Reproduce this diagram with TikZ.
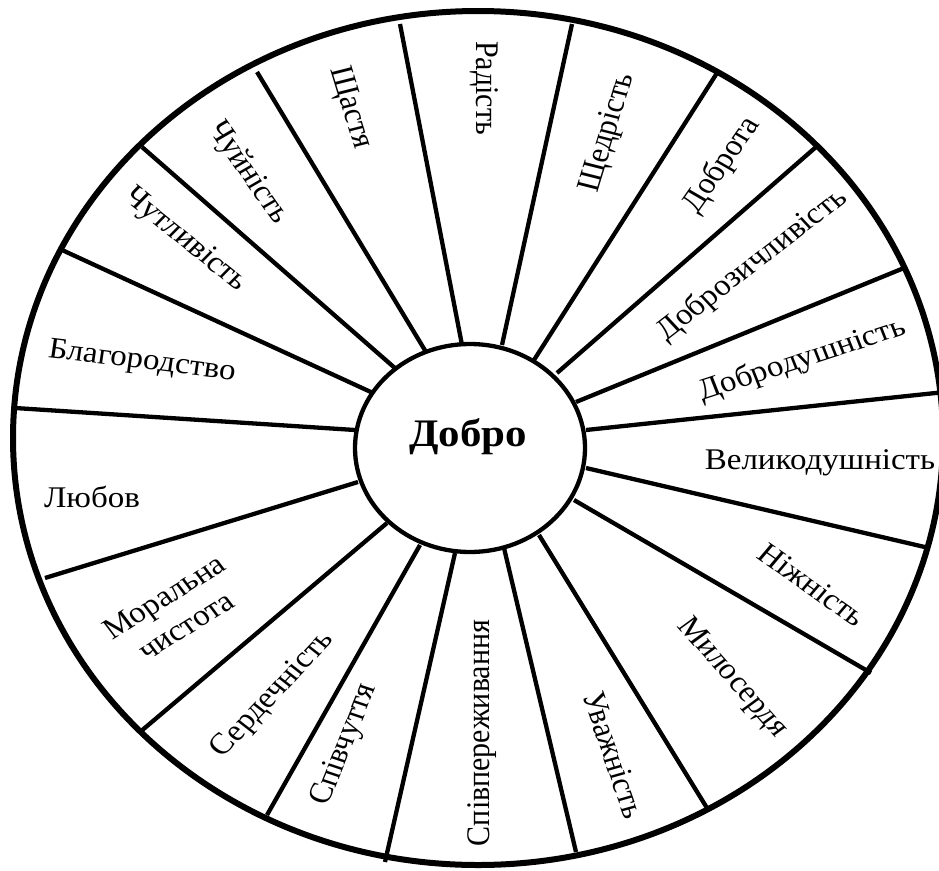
\documentclass[tikz,border=0pt]{standalone}
\usepackage{fontspec}
\setmainfont{Liberation Serif}
\newfontfamily\tnrfont{Liberation Serif}
\usetikzlibrary{shapes.geometric}
\begin{document}
\begin{tikzpicture}[x=1pt,y=-1pt,
  spoke/.style={line width=4.3pt},
  rim/.style={line width=6pt},
  lbl/.style={font=\tnrfont\fontsize{30}{35}\selectfont, inner sep=0pt, align=center, xscale=1.1}]
\useasboundingbox (0,0) rectangle (939,870);
\fill[white] (0,0) rectangle (939,870);
\clip (0,0) rectangle (939,870);
% spokes
\draw[spoke] (462,345) -- (400,24);
\draw[spoke] (502,345) -- (572,24);
\draw[spoke] (534,360) -- (717,73);
\draw[spoke] (557,373) -- (816,147);
\draw[spoke] (576,402) -- (904,268);
\draw[spoke] (586,430) -- (945,392);
\draw[spoke] (586,468) -- (929,548);
\draw[spoke] (574,500) -- (871,673);
\draw[spoke] (539,535) -- (707,808);
\draw[spoke] (504,548) -- (576,852);
\draw[spoke] (455,553) -- (385,862);
\draw[spoke] (420,545) -- (267,815);
\draw[spoke] (387,523) -- (140,732);
\draw[spoke] (358,482) -- (45,578);
\draw[spoke] (355,430) -- (15,408);
\draw[spoke] (373,393) -- (62,250);
\draw[spoke] (396,369) -- (142,147);
\draw[spoke] (426,352) -- (257,72);
% rims
\draw[rim] (478,438) ellipse [x radius=465pt, y radius=427pt];
\node[ellipse, draw, line width=4.3pt, fill=white, minimum width=230pt, minimum height=208pt, inner sep=0pt] (core) at (470,448) {};
\node[font=\tnrfont\fontsize{39}{44}\selectfont\bfseries, xscale=1.1, inner sep=0pt] (dobro) at (468,437) {Добро};
% labels
\node[lbl, rotate=-90]   (l1)  at (484,88)  {Радість};
\node[lbl, rotate=74.5]  (l2)  at (608,133) {Щедрість};
\node[lbl, rotate=57.5]  (l3)  at (722,165) {Доброта};
\node[lbl, rotate=40.3]  (l4)  at (752,265) {Доброзичливість};
\node[lbl, rotate=19.7]  (l5)  at (802,360) {Добродушність};
\node[lbl]               (l6)  at (820,463) {Великодушність};
\node[lbl, rotate=-37.6] (l7)  at (812,585) {Ніжність};
\node[lbl, rotate=-51.2] (l8)  at (732,678) {Милосердя};
\node[lbl, rotate=-72.6] (l9)  at (614,755) {Уважність};
\node[lbl, rotate=90]    (l10) at (482,733) {Співпереживання};
\node[lbl, rotate=69.8]  (l11) at (345,745) {Співчуття};
\node[lbl, rotate=49.4]  (l12) at (273,695) {Сердечність};
\node[lbl, rotate=34.5]  (l13) at (175,611) {Моральна\\чистота};
\node[lbl]               (l14) at (92,497)  {Любов};
\node[lbl, rotate=-7.7]  (l15) at (142,362) {Благородство};
\node[lbl, rotate=-41.7] (l16) at (185,240) {Чутливість};
\node[lbl, rotate=-57.5] (l17) at (248,173) {Чуйність};
\node[lbl, rotate=-74.5] (l18) at (350,108) {Щастя};
\end{tikzpicture}
\end{document}
